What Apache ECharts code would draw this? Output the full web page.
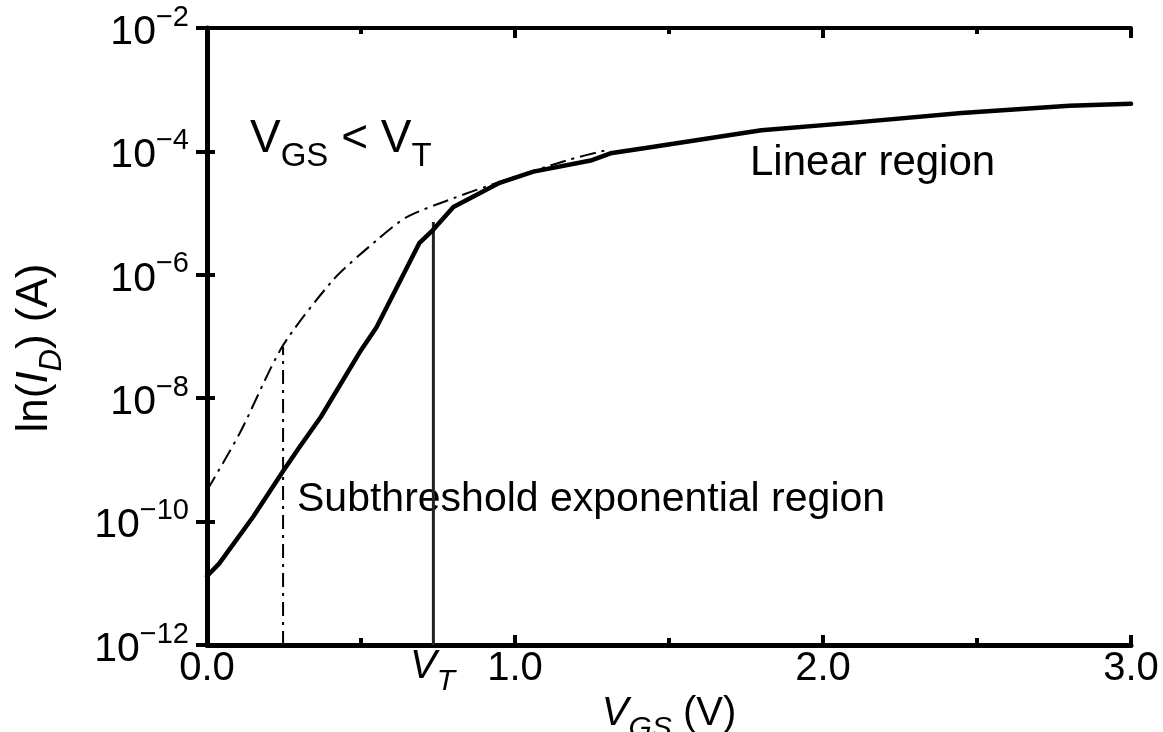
<!DOCTYPE html>
<html>
<head>
<meta charset="utf-8">
<script src="https://cdn.jsdelivr.net/npm/echarts@6/dist/echarts.min.js"></script>
<style>
  html, body { margin: 0; padding: 0; background: #fff; }
  #chart { width: 1163px; height: 732px; }
</style>
</head>
<body>
<div id="chart"></div>
<script>
// drain current, thick curve (V_GS in volts, I_D in amps)
const vgsSolid = [0, 0.04, 0.15, 0.25, 0.30, 0.37, 0.50, 0.55, 0.69, 0.735, 0.80, 0.95, 1.06, 1.25, 1.31, 1.44, 1.80, 2.09, 2.45, 2.80, 3.0];
const idSolid = [1.3e-11, 2.1e-11, 1.2e-10, 6.9e-10, 1.6e-9, 5.0e-9, 6.0e-8, 1.4e-7, 3.3e-6, 5.4e-6, 1.26e-5, 3.1e-5, 4.7e-5, 7.2e-5, 9.3e-5, 1.17e-4, 2.2e-4, 2.9e-4, 4.2e-4, 5.5e-4, 5.9e-4];

// dash-dot curve
const vgsDash = [0, 0.107, 0.244, 0.41, 0.55, 0.65, 0.80, 0.95, 1.17, 1.28, 1.31];
const idDash = [3.2e-10, 2.75e-9, 6.8e-8, 8.3e-7, 3.6e-6, 8.7e-6, 1.74e-5, 3.2e-5, 7.2e-5, 1.0e-4, 1.07e-4];

// vertical marker lines
const dashMarkVgs = [0.247, 0.247];
const dashMarkId = [1e-12, 6.8e-8];
const vtVgs = [0.735, 0.735];
const vtId = [1e-12, 7.2e-6];

const xTicks = [0, 1, 2, 3];
const yMin = 1e-12;
const yMax = 1e-2;

const FONT = '"Liberation Sans", Arial, Helvetica, sans-serif';

function pairs(xs, ys) {
  return xs.map((x, i) => [x, ys[i]]);
}

const chart = echarts.init(document.getElementById('chart'), null, { renderer: 'canvas' });

const axisLine = { show: true, lineStyle: { color: '#000', width: 4 } };

const option = {
  backgroundColor: '#fff',
  animation: false,
  grid: { left: 207, top: 28, right: 32, bottom: 87, containLabel: false, outerBoundsMode: 'none' },
  xAxis: [
    {
      type: 'value',
      min: 0,
      max: 3,
      interval: 1,
      position: 'bottom',
      axisLine: { show: true, lineStyle: { color: '#000', width: 5 } },
      axisTick: { show: true, inside: true, length: 10, lineStyle: { color: '#000', width: 4 } },
      minorTick: { show: true, splitNumber: 2, length: 7, lineStyle: { color: '#000', width: 4 } },
      splitLine: { show: false },
      axisLabel: {
        margin: 4,
        color: '#000',
        fontFamily: FONT,
        fontSize: 40,
        formatter: (v) => (xTicks.indexOf(v) >= 0 ? v.toFixed(1) : '')
      },
      name: '{v|V}{s|GS}{n| (V)}',
      nameLocation: 'middle',
      nameGap: 45,
      nameTextStyle: {
        rich: {
          v: { fontFamily: FONT, fontSize: 40, fontStyle: 'italic', color: '#000', lineHeight: 44 },
          s: { fontFamily: FONT, fontSize: 30, fontStyle: 'italic', color: '#000', lineHeight: 30, verticalAlign: 'bottom', padding: [0, 0, -8, 0] },
          n: { fontFamily: FONT, fontSize: 40, color: '#000', lineHeight: 44 }
        }
      }
    },
    {
      type: 'value',
      min: 0,
      max: 3,
      interval: 1,
      position: 'top',
      axisLine: axisLine,
      axisTick: { show: true, inside: true, length: 10, lineStyle: { color: '#000', width: 4 } },
      minorTick: { show: true, splitNumber: 2, length: 6, lineStyle: { color: '#000', width: 4 } },
      splitLine: { show: false },
      axisLabel: { show: false }
    }
  ],
  yAxis: [
    {
      type: 'log',
      logBase: 10,
      min: yMin,
      max: yMax,
      interval: 2,
      position: 'left',
      axisLine: { show: true, lineStyle: { color: '#000', width: 5 } },
      axisTick: { show: true, inside: true, length: 8, lineStyle: { color: '#000', width: 4 } },
      minorTick: { show: false },
      splitLine: { show: false },
      axisLabel: {
        margin: 18,
        formatter: (v) => {
          const e = Math.round(Math.log10(v));
          return '{b|10}{s|\u2212' + Math.abs(e) + '}';
        },
        rich: {
          b: { fontFamily: FONT, fontSize: 41, color: '#000', lineHeight: 50, verticalAlign: 'bottom' },
          s: { fontFamily: FONT, fontSize: 29, color: '#000', lineHeight: 30, verticalAlign: 'top' }
        }
      }
    },
    {
      type: 'log',
      logBase: 10,
      min: yMin,
      max: yMax,
      interval: 2,
      position: 'right',
      axisLine: axisLine,
      axisTick: { show: true, inside: true, length: 11, lineStyle: { color: '#000', width: 4 } },
      splitLine: { show: false },
      axisLabel: { show: false }
    }
  ],
  series: [
    {
      name: 'dash mark',
      type: 'line',
      data: pairs(dashMarkVgs, dashMarkId),
      symbol: 'none',
      lineStyle: { color: '#000', width: 2, type: [14, 6, 3, 6] },
      z: 2
    },
    {
      name: 'VT mark',
      type: 'line',
      data: pairs(vtVgs, vtId),
      symbol: 'none',
      lineStyle: { color: '#222', width: 3 },
      z: 2
    },
    {
      name: 'dash-dot',
      type: 'line',
      data: pairs(vgsDash, idDash),
      symbol: 'none',
      smooth: 0.25,
      lineStyle: { color: '#000', width: 2, type: [16, 6, 3, 6] },
      z: 3
    },
    {
      name: 'ID',
      type: 'line',
      data: pairs(vgsSolid, idSolid),
      symbol: 'none',
      lineStyle: { color: '#000', width: 4.5, join: 'round', cap: 'round' },
      z: 4
    }
  ],
  graphic: [
    {
      type: 'text',
      x: 35,
      y: 348,
      rotation: Math.PI / 2,
      style: {
        text: '{n|ln(}{i|I}{s|D}{n|) (A)}',
        align: 'center',
        verticalAlign: 'middle',
        rich: {
          n: { fontFamily: FONT, fontSize: 44, color: '#000', lineHeight: 48 },
          i: { fontFamily: FONT, fontSize: 44, fontStyle: 'italic', color: '#000', lineHeight: 48 },
          s: { fontFamily: FONT, fontSize: 31, fontStyle: 'italic', color: '#000', lineHeight: 31, verticalAlign: 'bottom', padding: [0, 0, -9, 0] }
        }
      }
    },
    {
      type: 'text',
      left: 250,
      top: 116,
      style: {
        text: '{a|V}{s|GS}{a| < V}{s|T}',
        rich: {
          a: { fontFamily: FONT, fontSize: 46, color: '#000', lineHeight: 50 },
          s: { fontFamily: FONT, fontSize: 33, color: '#000', lineHeight: 33, verticalAlign: 'bottom', padding: [0, 0, -9, 0] }
        }
      }
    },
    {
      type: 'text',
      left: 750,
      top: 142,
      style: { text: 'Linear region', font: '42px ' + FONT, fill: '#000' }
    },
    {
      type: 'text',
      left: 297,
      top: 479,
      style: { text: 'Subthreshold exponential region', font: '41px ' + FONT, fill: '#000' }
    },
    {
      type: 'text',
      left: 410,
      top: 647,
      style: {
        text: '{v|V}{s|T}',
        rich: {
          v: { fontFamily: FONT, fontSize: 40, fontStyle: 'italic', color: '#000', lineHeight: 44 },
          s: { fontFamily: FONT, fontSize: 30, fontStyle: 'italic', color: '#000', lineHeight: 30, verticalAlign: 'bottom', padding: [0, 0, -8, 0] }
        }
      }
    }
  ]
};

chart.setOption(option);
</script>
</body>
</html>
